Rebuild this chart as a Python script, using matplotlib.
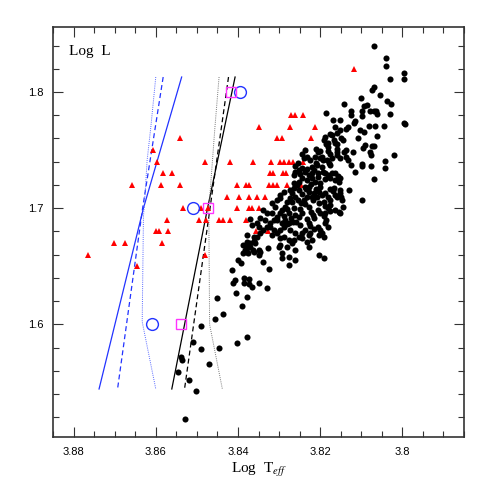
import numpy as np
import matplotlib
matplotlib.use("Agg")
import matplotlib.pyplot as plt
from matplotlib.ticker import MultipleLocator

plt.rcParams["mathtext.fontset"] = "stix"

# Krzywe brzegowe (niebieskie i czarne)
blue_solid_x = [3.8537, 3.8630, 3.8738]
blue_solid_y = [1.8129, 1.7000, 1.5444]
blue_dash_x = [3.8582, 3.8632, 3.8693]
blue_dash_y = [1.8129, 1.7000, 1.5444]
blue_dot_x = [3.8600, 3.8612, 3.8621, 3.8626, 3.8630, 3.8633, 3.8600]
blue_dot_y = [1.8129, 1.7699, 1.7413, 1.7127, 1.6925, 1.6022, 1.5444]

black_solid_x = [3.8407, 3.8474, 3.8561]
black_solid_y = [1.8129, 1.7000, 1.5444]
black_dash_x = [3.8423, 3.8468, 3.8530]
black_dash_y = [1.8129, 1.7000, 1.5444]
gray_dot_x = [3.8446, 3.8456, 3.8462, 3.8468, 3.8471, 3.8469, 3.8438]
gray_dot_y = [1.8129, 1.7699, 1.7413, 1.7127, 1.7000, 1.6000, 1.5444]

# Punkty modelowe
circle_x = [3.8608, 3.8510, 3.8396]
circle_y = [1.60, 1.70, 1.80]
square_x = [3.8538, 3.8473, 3.8416]
square_y = [1.60, 1.70, 1.80]

# Trojkaty (czerwone)
tri = np.array([
    (3.8118, 1.82),
    (3.8272, 1.78), (3.8262, 1.78), (3.8241, 1.78),
    (3.8350, 1.77), (3.8274, 1.77), (3.8213, 1.77),
    (3.8541, 1.76), (3.8304, 1.76), (3.8293, 1.76), (3.8223, 1.76),
    (3.8606, 1.75), (3.8237, 1.75),
    (3.8597, 1.74), (3.8481, 1.74), (3.8419, 1.74), (3.8364, 1.74), (3.8320, 1.74),
    (3.8297, 1.74), (3.8287, 1.74), (3.8277, 1.74), (3.8266, 1.74), (3.8241, 1.74),
    (3.8582, 1.73), (3.8560, 1.73), (3.8321, 1.73), (3.8315, 1.73), (3.8290, 1.73),
    (3.8284, 1.73),
    (3.8659, 1.72), (3.8588, 1.72), (3.8541, 1.72), (3.8402, 1.72), (3.8380, 1.72),
    (3.8374, 1.72), (3.8325, 1.72), (3.8315, 1.72), (3.8304, 1.72), (3.8280, 1.72),
    (3.8246, 1.72),
    (3.8427, 1.71), (3.8397, 1.71), (3.8374, 1.71), (3.8354, 1.71), (3.8334, 1.71),
    (3.8533, 1.70), (3.8490, 1.70), (3.8472, 1.70), (3.8402, 1.70), (3.8374, 1.70),
    (3.8365, 1.70), (3.8349, 1.70),
    (3.8572, 1.69), (3.8496, 1.69), (3.8477, 1.69), (3.8445, 1.69), (3.8436, 1.69),
    (3.8420, 1.69), (3.8380, 1.69),
    (3.8599, 1.68), (3.8591, 1.68), (3.8571, 1.68), (3.8357, 1.68), (3.8327, 1.68),
    (3.8701, 1.67), (3.8674, 1.67), (3.8584, 1.67),
    (3.8765, 1.66), (3.8481, 1.66),
    (3.8646, 1.65),
])

# Kropki (czarne)
giants_upper = [
    (3.807, 1.840), (3.804, 1.829), (3.804, 1.822), (3.803, 1.811), (3.7997, 1.816),
    (3.7997, 1.811), (3.8068, 1.804), (3.8074, 1.802), (3.8055, 1.797), (3.810, 1.795),
    (3.8037, 1.792), (3.8027, 1.790), (3.8141, 1.790), (3.8094, 1.788), (3.8086, 1.789),
    (3.8124, 1.784), (3.8098, 1.7835), (3.8078, 1.784), (3.8070, 1.784), (3.8063, 1.784),
    (3.8062, 1.781), (3.8031, 1.781), (3.8185, 1.782), (3.8126, 1.780), (3.8098, 1.779),
    (3.8168, 1.776), (3.8152, 1.776), (3.8114, 1.775), (3.8118, 1.773), (3.8133, 1.770),
    (3.8138, 1.768), (3.8081, 1.7705), (3.8067, 1.7705), (3.8102, 1.7675), (3.8094, 1.766),
    (3.8045, 1.771), (3.7996, 1.773), (3.7994, 1.7722), (3.8163, 1.770),
]
giants_band1 = [
    (3.8177, 1.764), (3.8171, 1.763), (3.8187, 1.761), (3.8190, 1.7585), (3.8159, 1.765),
    (3.8149, 1.7605), (3.8144, 1.7585), (3.8107, 1.760), (3.8061, 1.762), (3.8092, 1.754),
    (3.8096, 1.7515), (3.8075, 1.7535), (3.8069, 1.7535), (3.8020, 1.746), (3.8180, 1.756),
    (3.8185, 1.755), (3.8182, 1.753), (3.8163, 1.7565), (3.8159, 1.755), (3.8209, 1.751),
    (3.8206, 1.748), (3.8200, 1.7493), (3.8195, 1.744), (3.8192, 1.7415), (3.8181, 1.7493),
    (3.8177, 1.7465), (3.8159, 1.751), (3.8159, 1.7482), (3.8159, 1.7456), (3.8136, 1.7505),
    (3.8138, 1.744), (3.8133, 1.7413), (3.8124, 1.737), (3.8114, 1.731), (3.8099, 1.736),
    (3.8076, 1.7364), (3.8043, 1.7407), (3.8043, 1.735), (3.8069, 1.725), (3.8131, 1.7155),
    (3.8099, 1.707), (3.8120, 1.748), (3.8078, 1.7483), (3.8076, 1.7455), (3.8099, 1.7384),
    (3.8183, 1.7413), (3.8179, 1.739), (3.8232, 1.744), (3.8236, 1.750), (3.8244, 1.747),
    (3.8240, 1.7428), (3.8224, 1.7413), (3.8212, 1.744), (3.8200, 1.7428), (3.8220, 1.7355),
    (3.8216, 1.7327), (3.8208, 1.737), (3.8195, 1.7355), (3.8175, 1.737), (3.8171, 1.7428),
    (3.8151, 1.7428), (3.8143, 1.7483), (3.8167, 1.7585), (3.8151, 1.767),
]
giants_band2 = [
    (3.8244, 1.7344), (3.8232, 1.734), (3.8209, 1.739), (3.8255, 1.7385), (3.8260, 1.736),
    (3.8252, 1.7333), (3.8260, 1.7312), (3.8264, 1.7284), (3.8193, 1.731), (3.8187, 1.730),
    (3.8171, 1.730), (3.8163, 1.730), (3.8157, 1.7276), (3.8175, 1.7256), (3.8152, 1.7256),
    (3.8154, 1.7226), (3.8206, 1.730), (3.8206, 1.727), (3.8220, 1.7256), (3.8212, 1.7226),
    (3.8200, 1.7218), (3.8151, 1.7155), (3.8151, 1.7127), (3.8149, 1.7098), (3.8148, 1.7069),
    (3.8177, 1.7164), (3.8168, 1.715), (3.8159, 1.7098), (3.8187, 1.7127), (3.8182, 1.7098),
    (3.8175, 1.7069), (3.8200, 1.7184), (3.8202, 1.7141), (3.8196, 1.7112), (3.8211, 1.7161),
    (3.8214, 1.7127), (3.8208, 1.7098), (3.8222, 1.7207), (3.8228, 1.7184), (3.8235, 1.7161),
    (3.8228, 1.7141), (3.8221, 1.7098), (3.8217, 1.7069), (3.8202, 1.7041), (3.8187, 1.7017),
    (3.8182, 1.6998), (3.8206, 1.6983), (3.8200, 1.6955), (3.8191, 1.6931), (3.8185, 1.6897),
    (3.8177, 1.6977), (3.8163, 1.6983), (3.8155, 1.6969), (3.8151, 1.6955), (3.8144, 1.7011),
    (3.8226, 1.7012), (3.8222, 1.6969), (3.8217, 1.694), (3.8214, 1.6912), (3.8232, 1.6903),
    (3.8228, 1.6874), (3.8224, 1.6845), (3.8216, 1.6817), (3.8206, 1.6839), (3.8201, 1.6811),
    (3.8195, 1.6783), (3.8187, 1.6874), (3.8182, 1.6839), (3.8204, 1.6768), (3.8191, 1.6748),
    (3.8236, 1.6811), (3.8244, 1.6788), (3.8226, 1.6768), (3.8248, 1.6989), (3.8244, 1.6955),
    (3.8252, 1.692), (3.8258, 1.6882), (3.8240, 1.7069), (3.8247, 1.7041), (3.8255, 1.7069),
    (3.8260, 1.7098), (3.8252, 1.7155), (3.8263, 1.717), (3.8256, 1.7198), (3.8252, 1.7226),
    (3.8264, 1.7218), (3.8268, 1.7127), (3.8274, 1.7084), (3.8281, 1.7055), (3.8285, 1.7012),
    (3.8293, 1.6983), (3.8297, 1.6955), (3.8305, 1.6925), (3.8277, 1.6955), (3.8271, 1.6912),
    (3.8266, 1.6882), (3.8285, 1.6897), (3.8281, 1.6863), (3.8289, 1.6834), (3.8297, 1.6811),
]
giants_band3 = [
    (3.8313, 1.6897), (3.8321, 1.6869), (3.8329, 1.6839), (3.8338, 1.6811), (3.8346, 1.6783),
    (3.8354, 1.6753), (3.8362, 1.6719), (3.8370, 1.6697), (3.8378, 1.6667), (3.8313, 1.6811),
    (3.8305, 1.6783), (3.8317, 1.6768), (3.8289, 1.6753), (3.8277, 1.6725), (3.8269, 1.6702),
    (3.8281, 1.6667), (3.8297, 1.6682), (3.8326, 1.6654), (3.8260, 1.6783), (3.8252, 1.6748),
    (3.8228, 1.6667), (3.8248, 1.7293), (3.8236, 1.7312), (3.8228, 1.7284), (3.8220, 1.7304),
    (3.8182, 1.7284), (3.8244, 1.7256), (3.8232, 1.7241), (3.8187, 1.7247), (3.8163, 1.7241),
    (3.8236, 1.7184), (3.8167, 1.7178), (3.8244, 1.7121), (3.8232, 1.7098), (3.8163, 1.7112),
    (3.8297, 1.7084), (3.8268, 1.7055), (3.8238, 1.7035), (3.8191, 1.7055), (3.8175, 1.7027),
    (3.8317, 1.7041), (3.8309, 1.7012), (3.8281, 1.6989), (3.8264, 1.6998), (3.8187, 1.6955),
    (3.8338, 1.6983), (3.8329, 1.6955), (3.8317, 1.696), (3.8289, 1.6931), (3.8260, 1.694),
    (3.8346, 1.6912), (3.8334, 1.6897), (3.8305, 1.6897), (3.8293, 1.6869), (3.8277, 1.6874),
    (3.8248, 1.6854), (3.8365, 1.6854), (3.8350, 1.6839), (3.8321, 1.6834), (3.8273, 1.6811),
    (3.8224, 1.6783), (3.8378, 1.6768), (3.8362, 1.6753), (3.8297, 1.674), (3.8264, 1.6725),
    (3.8244, 1.674), (3.8232, 1.6711), (3.8220, 1.6725), (3.8378, 1.6711), (3.8387, 1.6682),
    (3.8370, 1.6667), (3.8358, 1.6697), (3.8350, 1.6639), (3.8301, 1.6667), (3.8260, 1.6639),
    (3.8204, 1.6596), (3.8191, 1.6568), (3.8293, 1.6568), (3.8277, 1.6576), (3.8260, 1.6553),
    (3.8293, 1.6611), (3.8277, 1.651), (3.8387, 1.6611), (3.8346, 1.6625), (3.8273, 1.7155),
    (3.8289, 1.7141), (3.8297, 1.7112), (3.8305, 1.7069), (3.8354, 1.6869), (3.8370, 1.6903),
]
giants_lower = [
    (3.8382, 1.6639), (3.8364, 1.6639), (3.8362, 1.6619), (3.8348, 1.6596), (3.8401, 1.6553),
    (3.8392, 1.6527), (3.8415, 1.6467), (3.8339, 1.6539), (3.8325, 1.6478), (3.8378, 1.6624),
    (3.8375, 1.6611), (3.8385, 1.6396), (3.8374, 1.6390), (3.8385, 1.6355), (3.8372, 1.6350),
    (3.8366, 1.6318), (3.8407, 1.6381), (3.8411, 1.6358), (3.8348, 1.6358), (3.8330, 1.631),
    (3.8404, 1.6267), (3.8378, 1.6232), (3.8390, 1.6157), (3.8379, 1.5888), (3.8403, 1.5837),
    (3.8450, 1.6226), (3.8437, 1.6089), (3.8455, 1.6048), (3.8490, 1.5985), (3.8509, 1.5848),
    (3.8491, 1.5788), (3.8447, 1.5801), (3.8538, 1.5721), (3.8537, 1.5695), (3.8470, 1.5659),
    (3.8547, 1.5588), (3.8520, 1.5518), (3.8501, 1.5429), (3.8529, 1.5188),
]

dots = np.array(giants_upper + giants_band1 + giants_band2 + giants_band3 + giants_lower)

fig = plt.figure(figsize=(4.91, 4.90), dpi=100)
ax = fig.add_axes([0.108, 0.108, 0.837, 0.837])

blue = "#2233ff"
ax.plot(blue_solid_x, blue_solid_y, color=blue, lw=0.9)
ax.plot(blue_dash_x, blue_dash_y, color=blue, lw=0.9, ls=(0, (4, 2.5)))
ax.plot(blue_dot_x, blue_dot_y, color="#5566ff", lw=0.7, ls=(0, (1, 1.2)))
ax.plot(black_solid_x, black_solid_y, color="black", lw=0.9)
ax.plot(black_dash_x, black_dash_y, color="black", lw=0.9, ls=(0, (4, 2.5)))
ax.plot(gray_dot_x, gray_dot_y, color="#777777", lw=0.7, ls=(0, (1, 1.2)))

ax.plot(tri[:, 0], tri[:, 1], "^", color="#ff0000", ms=4.5, mew=0, ls="none")
ax.plot(dots[:, 0], dots[:, 1], "o", color="black", ms=4.4, mew=0, ls="none")

ax.plot(circle_x, circle_y, "o", mfc="none", mec=blue, ms=8.5, mew=1.0, ls="none")
ax.plot(square_x, square_y, "s", mfc="none", mec="#ff33ff", ms=7.5, mew=1.0, ls="none")

ax.set_xlim(3.885, 3.785)
ax.set_ylim(1.503, 1.856)

ax.xaxis.set_major_locator(MultipleLocator(0.02))
ax.xaxis.set_minor_locator(MultipleLocator(0.005))
ax.yaxis.set_major_locator(MultipleLocator(0.1))
ax.yaxis.set_minor_locator(MultipleLocator(0.02))
ax.set_xticks([3.88, 3.86, 3.84, 3.82, 3.80])
ax.set_xticklabels(["3.88", "3.86", "3.84", "3.82", "3.8"])
ax.set_yticks([1.6, 1.7, 1.8])
ax.set_yticklabels(["1.6", "1.7", "1.8"])

ax.tick_params(which="both", direction="in", top=True, right=True, color="#333333",
               labelsize=8, width=0.8)
ax.tick_params(which="major", length=7, pad=7)
ax.tick_params(which="minor", length=4)
for lab in ax.get_xticklabels() + ax.get_yticklabels():
    lab.set_family("Liberation Sans")
for sp in ax.spines.values():
    sp.set_linewidth(1.2)
    sp.set_color("#333333")

ax.text(0.04, 0.94, "Log  L", transform=ax.transAxes, family="Liberation Serif",
        fontsize=11, va="center", ha="left")
ax.set_xlabel(r"Log  T$_{\it eff}$", family="Liberation Serif", fontsize=11, labelpad=3)

fig.savefig("out.png", dpi=100)
